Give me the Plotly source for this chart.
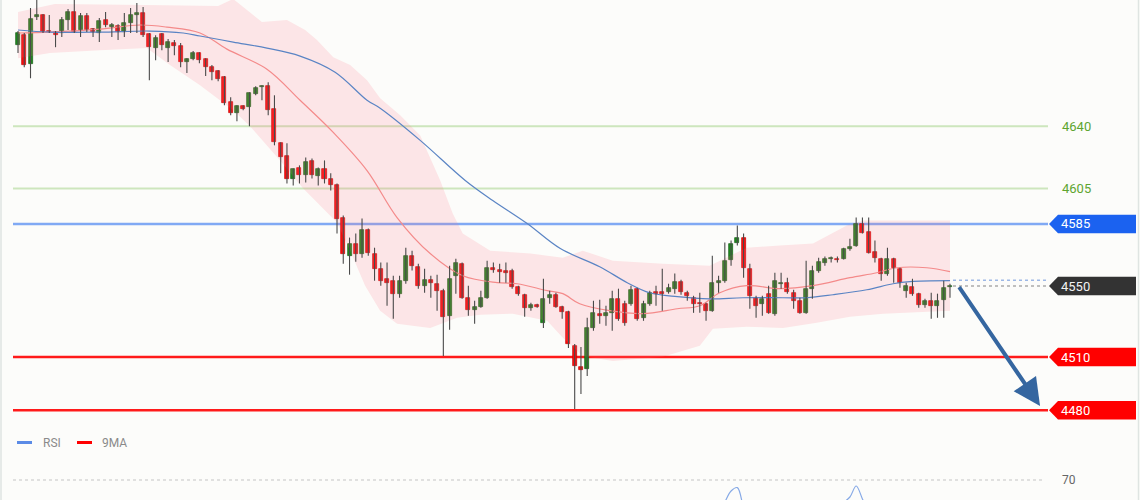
import plotly.graph_objects as go

# ---------------- data ----------------
opens = [
4685.8, 4691.4, 4675.0, 4701.6, 4702.7, 4693.7, 4693.1, 4692.6, 4699.9, 4704.4,
4694.3, 4702.2, 4694.8, 4692.6, 4699.9, 4695.9, 4696.5, 4693.1, 4698.2, 4702.7,
4703.9, 4692.0, 4684.1, 4692.0, 4684.1, 4686.9, 4685.2, 4676.2, 4677.9, 4681.3,
4677.9, 4673.3, 4671.1, 4667.7, 4653.6, 4647.4, 4651.3, 4650.7, 4658.1, 4662.0,
4662.6, 4649.6, 4630.4, 4623.1, 4610.1, 4616.3, 4612.3, 4620.2, 4611.8, 4615.7,
4610.6, 4607.2, 4588.6, 4567.1, 4573.9, 4568.3, 4581.8, 4568.3, 4559.8, 4554.1,
4553.0, 4545.7, 4553.0, 4567.1, 4560.9, 4550.2, 4553.6, 4551.3, 4547.4, 4533.2,
4555.8, 4562.6, 4543.4, 4536.6, 4538.3, 4543.4, 4560.3, 4559.2, 4558.7, 4558.7,
4549.6, 4545.1, 4537.7, 4539.4, 4529.3, 4543.4, 4545.1, 4538.3, 4535.5, 4516.3,
4504.4, 4503.3, 4526.4, 4534.4, 4533.2, 4534.9, 4542.8, 4540.0, 4540.0, 4548.5,
4532.1, 4540.0, 4546.8, 4546.8, 4546.8, 4548.5, 4552.5, 4546.2, 4543.4, 4540.6,
4540.0, 4536.1, 4551.9, 4553.0, 4564.9, 4574.5, 4577.3, 4559.8, 4543.4, 4540.0,
4545.7, 4534.4, 4551.3, 4551.9, 4546.2, 4541.7, 4534.9, 4548.5, 4558.7, 4563.2,
4565.4, 4565.4, 4565.4, 4571.1, 4572.8, 4585.2, 4580.7, 4569.4, 4565.4, 4557.0,
4565.4, 4559.8, 4547.4, 4549.6, 4545.7, 4539.4, 4541.7, 4538.9, 4542.3, 4549.6,
]
highs = [
4693.7, 4692.6, 4706.7, 4712.5, 4703.3, 4702.7, 4693.7, 4701.6, 4706.1, 4713.0,
4703.9, 4703.9, 4695.4, 4701.0, 4704.4, 4698.2, 4697.6, 4703.9, 4706.7, 4709.5,
4707.2, 4692.6, 4691.4, 4692.6, 4689.2, 4688.6, 4686.9, 4678.4, 4682.4, 4681.8,
4678.4, 4674.5, 4671.7, 4668.3, 4656.4, 4651.9, 4651.9, 4659.2, 4662.6, 4663.2,
4664.9, 4657.5, 4631.0, 4630.4, 4616.3, 4618.0, 4622.5, 4621.9, 4616.8, 4620.8,
4613.5, 4607.8, 4589.7, 4577.3, 4579.6, 4588.0, 4582.4, 4571.6, 4563.2, 4563.2,
4555.8, 4555.8, 4571.6, 4569.9, 4562.6, 4559.8, 4555.8, 4556.4, 4548.5, 4561.5,
4565.4, 4563.2, 4550.2, 4541.7, 4547.4, 4564.3, 4563.2, 4562.6, 4563.2, 4559.8,
4550.2, 4545.7, 4540.6, 4540.0, 4554.1, 4547.4, 4546.2, 4538.9, 4536.1, 4517.4,
4515.7, 4532.1, 4541.7, 4542.3, 4538.9, 4547.4, 4548.5, 4541.7, 4550.2, 4549.1,
4541.7, 4547.4, 4550.2, 4559.8, 4551.3, 4557.0, 4553.6, 4547.4, 4544.5, 4546.2,
4540.6, 4567.1, 4555.8, 4574.5, 4575.6, 4584.1, 4579.6, 4562.6, 4544.5, 4544.5,
4550.2, 4557.5, 4557.5, 4554.7, 4547.9, 4543.4, 4564.3, 4561.5, 4566.0, 4566.6,
4566.6, 4566.6, 4571.6, 4576.7, 4588.6, 4588.6, 4588.6, 4575.6, 4566.0, 4571.6,
4566.0, 4560.3, 4551.9, 4554.1, 4546.2, 4542.8, 4546.2, 4545.7, 4553.0, 4551.3,
]
lows = [
4681.3, 4673.3, 4667.1, 4699.9, 4692.6, 4692.6, 4684.6, 4690.3, 4694.3, 4692.6,
4690.3, 4693.1, 4690.3, 4687.5, 4695.9, 4690.3, 4688.6, 4690.3, 4692.6, 4692.6,
4690.3, 4666.0, 4677.3, 4682.9, 4676.2, 4680.1, 4673.3, 4670.0, 4677.3, 4675.6,
4668.3, 4666.0, 4665.4, 4651.9, 4646.2, 4642.8, 4649.1, 4640.0, 4657.5, 4654.7,
4646.2, 4629.3, 4613.5, 4607.8, 4606.7, 4607.8, 4608.4, 4610.6, 4606.7, 4607.8,
4603.9, 4579.6, 4562.6, 4556.4, 4563.7, 4566.0, 4567.1, 4553.0, 4550.2, 4538.9,
4531.5, 4543.4, 4551.3, 4558.7, 4548.5, 4546.2, 4543.4, 4536.1, 4510.6, 4525.3,
4545.7, 4542.8, 4533.2, 4528.7, 4537.7, 4542.8, 4557.5, 4551.9, 4551.9, 4548.5,
4544.5, 4532.7, 4536.1, 4537.7, 4526.4, 4540.0, 4537.7, 4531.5, 4515.1, 4480.7,
4489.2, 4499.3, 4524.8, 4528.7, 4527.6, 4524.8, 4530.4, 4527.6, 4538.9, 4530.4,
4530.4, 4538.9, 4538.9, 4536.1, 4545.7, 4545.7, 4545.1, 4541.7, 4534.9, 4534.9,
4530.4, 4535.5, 4546.2, 4551.9, 4561.5, 4572.8, 4554.7, 4537.2, 4532.1, 4533.2,
4534.4, 4533.2, 4548.5, 4545.7, 4537.2, 4534.4, 4534.4, 4542.8, 4557.5, 4561.5,
4563.2, 4563.2, 4564.9, 4569.9, 4572.2, 4579.6, 4568.3, 4563.2, 4553.0, 4555.8,
4551.9, 4549.1, 4543.4, 4544.5, 4537.7, 4537.7, 4531.5, 4532.1, 4532.1, 4543.4,
]
closes = [
4692.6, 4674.5, 4700.5, 4702.7, 4693.1, 4693.1, 4691.4, 4699.9, 4704.4, 4693.1,
4702.2, 4694.3, 4693.1, 4699.3, 4697.1, 4697.1, 4693.1, 4698.2, 4702.7, 4703.9,
4691.4, 4684.6, 4689.7, 4685.8, 4687.5, 4685.2, 4676.2, 4677.9, 4681.3, 4677.3,
4673.3, 4670.5, 4666.6, 4653.0, 4647.4, 4651.3, 4649.6, 4658.7, 4661.5, 4662.6,
4649.1, 4631.0, 4622.5, 4610.6, 4615.7, 4612.3, 4619.7, 4612.3, 4615.7, 4610.6,
4607.2, 4588.0, 4568.3, 4573.9, 4568.3, 4581.3, 4568.8, 4559.8, 4553.0, 4551.9,
4545.7, 4553.0, 4567.1, 4561.5, 4550.2, 4553.6, 4551.9, 4547.4, 4532.7, 4554.1,
4563.2, 4543.4, 4536.6, 4538.3, 4543.4, 4560.3, 4559.2, 4558.1, 4557.5, 4549.6,
4545.7, 4537.7, 4539.4, 4538.3, 4542.8, 4545.1, 4538.3, 4535.5, 4517.4, 4505.0,
4502.7, 4526.4, 4534.9, 4533.2, 4534.9, 4542.8, 4531.5, 4529.3, 4547.9, 4531.5,
4540.0, 4546.2, 4545.7, 4545.7, 4549.1, 4552.5, 4546.8, 4544.5, 4540.0, 4540.0,
4536.1, 4551.9, 4553.0, 4564.3, 4573.9, 4577.3, 4560.3, 4544.5, 4538.9, 4542.8,
4534.9, 4553.0, 4551.9, 4546.8, 4541.7, 4534.9, 4548.5, 4558.7, 4563.7, 4565.4,
4565.7, 4564.9, 4571.1, 4572.2, 4585.2, 4580.1, 4568.8, 4566.0, 4557.0, 4565.4,
4560.3, 4551.9, 4550.2, 4545.7, 4539.4, 4541.7, 4538.9, 4541.7, 4549.1, 4550.2,
]

# slow moving average (blue), sampled at candle positions
ma_slow_x = [0, 5.1, 13.1, 21.1, 26.4, 29.1, 34.4, 39.8, 45.1, 50.7, 55.8, 57.9, 64.3,
             71.5, 75.9, 81.4, 86.7, 93.0, 97.4, 101.0, 105.4, 110.6, 115.9, 122.3,
             126.1, 130.3, 135.7, 139.9, 142.6, 149]
ma_slow = [4694.3, 4693.1, 4693.1, 4693.7, 4692.6, 4690.9, 4687.5, 4684.1, 4679.6, 4670.5,
           4654.7, 4650.2, 4632.1, 4609.5, 4598.2, 4585.2, 4571.1, 4560.9, 4551.9, 4546.2,
           4544.0, 4542.8, 4543.4, 4543.4, 4543.4, 4545.1, 4547.9, 4551.3, 4552.5, 4553.0]

# fast moving average (red)
ma_fast_x = [0, 5.1, 13.1, 19.5, 23.8, 29.1, 33.4, 39.8, 45.1, 50.4, 55.8, 60.6, 65.9,
             71.1, 76.6, 79.8, 84.6, 87.1, 89.8, 94.6, 99.9, 105.4, 109.0, 112.2, 116.5,
             121.8, 127.1, 133.0, 137.3, 140.5, 145.3, 149]
ma_fast = [4692.6, 4693.1, 4694.8, 4697.1, 4695.9, 4692.6, 4683.5, 4672.2, 4654.7, 4636.6,
           4615.1, 4588.6, 4568.3, 4555.8, 4551.9, 4551.3, 4547.4, 4545.7, 4540.0, 4536.1,
           4534.4, 4537.2, 4538.9, 4546.2, 4550.2, 4548.5, 4550.2, 4554.7, 4557.5, 4560.3,
           4560.3, 4558.1]

# band (upper / lower envelopes)
band_up_x = [0, 5.9, 20.3, 32.0, 34.4, 36.6, 39.0, 43.0, 45.9, 47.8, 50.4, 53.1, 55.8,
             57.9, 61.1, 64.3, 67.5, 69.5, 71.1, 75.5, 81.9, 87.1, 90.3, 95.1, 103.1,
             110.6, 116.5, 121.8, 127.1, 132.5, 135.1, 149]
band_up = [4704.4, 4708.9, 4708.4, 4707.8, 4711.8, 4705.5, 4698.8, 4699.9, 4694.3, 4688.6,
           4679.0, 4674.5, 4666.0, 4655.8, 4646.2, 4634.9, 4609.5, 4590.9, 4579.6, 4569.9,
           4568.3, 4566.0, 4569.9, 4564.3, 4562.6, 4561.5, 4571.6, 4572.8, 4573.9, 4584.1,
           4586.9, 4586.9]
band_lo_x = [0, 5.1, 13.1, 20.6, 24.3, 29.1, 34.4, 37.1, 41.9, 45.6, 51.0, 53.1, 55.5,
             57.9, 60.6, 65.9, 70.2, 73.9, 79.1, 84.6, 87.1, 90.3, 95.1, 103.1, 109.0,
             111.1, 116.5, 122.3, 127.7, 133.0, 138.3, 149]
band_lo = [4678.4, 4681.3, 4682.9, 4684.1, 4674.5, 4663.2, 4649.1, 4640.0, 4620.8, 4605.0,
           4585.8, 4569.9, 4550.2, 4536.1, 4528.7, 4526.4, 4532.1, 4533.8, 4534.4, 4530.4,
           4520.8, 4510.6, 4507.8, 4510.1, 4516.3, 4525.9, 4527.0, 4526.4, 4529.3, 4532.7,
           4534.4, 4536.1]

# RSI (only the top of it shows in the lower panel)
rsi_x = list(range(104, 142))
rsi = [52, 54, 50, 48, 45, 46, 43, 52, 53, 59, 64.5, 66.2, 56, 48, 45, 47, 43, 52, 52, 49,
       46, 43, 50, 55, 57, 58, 58, 58, 59, 61.5, 67, 60.5, 53, 48, 44, 50, 47, 43]

green_levels = [4640, 4605]
tag_levels = [4585, 4550, 4510, 4480]
tag_labels = ["4585", "4550", "4510", "4480"]
rsi_level = 70
target_from = (150.3, 4550.2)
target_to = (163.4, 4482.4)

# ---------------- figure ----------------
W, H = 1140, 500
def px(x):
    return x / W

FONT = "Roboto, 'Open Sans', sans-serif"
BG = "#fcfcfa"

n = len(opens)
idx = list(range(n))
is_up = [c >= o for o, c in zip(opens, closes)]
mins = [min(o, c) for o, c in zip(opens, closes)]
hts = [abs(c - o) for o, c in zip(opens, closes)]
base = [m - (0.7 - h) / 2 if h < 0.7 else m for m, h in zip(mins, hts)]
hts = [max(h, 0.7) for h in hts]

wick_x, wick_y = [], []
for i in idx:
    wick_x += [i, i, None]
    wick_y += [lows[i], highs[i], None]

fig = go.Figure()

# band
fig.add_trace(go.Scatter(
    x=band_up_x + band_lo_x[::-1], y=band_up + band_lo[::-1],
    fill="toself", fillcolor="rgba(255,120,135,0.17)", mode="lines",
    line=dict(width=0, color="rgba(0,0,0,0)"), hoverinfo="skip", showlegend=False))

# moving averages
fig.add_trace(go.Scatter(x=ma_fast_x, y=ma_fast, mode="lines",
                         line=dict(color="#f48a8a", width=1.2, shape="spline"),
                         showlegend=False))
fig.add_trace(go.Scatter(x=ma_slow_x, y=ma_slow, mode="lines",
                         line=dict(color="#5a84c4", width=1.2, shape="spline"),
                         showlegend=False))

# wicks
fig.add_trace(go.Scatter(x=wick_x, y=wick_y, mode="lines",
                         line=dict(color="#4a4a4a", width=1.1), showlegend=False,
                         hoverinfo="skip"))
# bodies
fig.add_trace(go.Bar(
    x=idx, y=hts, base=base, width=0.64,
    marker=dict(color=["#1f8a1f" if u else "#ff0d0d" for u in is_up],
                line=dict(color=["#155c15" if u else "#c40000" for u in is_up], width=0.7)),
    showlegend=False))

# RSI
fig.add_trace(go.Scatter(x=rsi_x, y=rsi, mode="lines", xaxis="x2", yaxis="y2",
                         line=dict(color="#86a9e6", width=1.2, shape="spline"),
                         showlegend=False))

shapes = []
LX0, LX1 = px(13), px(1048)
for lv in green_levels:
    shapes.append(dict(type="line", xref="paper", yref="y", x0=LX0, x1=LX1, y0=lv, y1=lv,
                       line=dict(color="#cde6bd", width=2), layer="below"))
shapes.append(dict(type="line", xref="paper", yref="y", x0=LX0, x1=LX1, y0=4585, y1=4585,
                   line=dict(color="#80a9f4", width=2.5), layer="below"))
for lv in (4510, 4480):
    shapes.append(dict(type="line", xref="paper", yref="y", x0=LX0, x1=LX1, y0=lv, y1=lv,
                       line=dict(color="#ff1a1a", width=2.5), layer="below"))
# dotted lines to the current price
shapes.append(dict(type="line", xref="paper", yref="y", x0=px(953), x1=px(1049),
                   y0=4553.2, y1=4553.2, line=dict(color="#9db8e6", width=1.5, dash="dot")))
shapes.append(dict(type="line", xref="paper", yref="y", x0=px(953), x1=px(1049),
                   y0=4550, y1=4550, line=dict(color="#aaaaaa", width=1.5, dash="dot")))

tag_colors = ["#1b62f0", "#333333", "#ff0000", "#ff0000"]
HH = 5.2
for lv, col in zip(tag_levels, tag_colors):
    path = (f"M {px(1049)},{lv} L {px(1058)},{lv + HH} L {px(1136)},{lv + HH} "
            f"L {px(1136)},{lv - HH} L {px(1058)},{lv - HH} Z")
    shapes.append(dict(type="path", xref="paper", yref="y", path=path,
                       fillcolor=col, line=dict(width=0)))

# RSI panel decorations
shapes.append(dict(type="line", xref="paper", yref="y2", x0=px(13), x1=px(1045),
                   y0=rsi_level, y1=rsi_level,
                   line=dict(color="#c4c4c4", width=1, dash="dot")))
shapes.append(dict(type="line", xref="paper", yref="paper", x0=px(17), x1=px(32),
                   y0=(H - 442.5) / H, y1=(H - 442.5) / H,
                   line=dict(color="#5b8be6", width=3)))
shapes.append(dict(type="line", xref="paper", yref="paper", x0=px(77), x1=px(92),
                   y0=(H - 442.5) / H, y1=(H - 442.5) / H,
                   line=dict(color="#ff0000", width=3)))
# frame edges
for xe in (1, 1138.5):
    shapes.append(dict(type="line", xref="paper", yref="paper", x0=px(xe), x1=px(xe),
                       y0=0, y1=1, line=dict(color="#dfe5e2", width=1.5)))

annotations = []
for lv in green_levels:
    annotations.append(dict(x=px(1060), y=lv, xref="paper", yref="y", text=str(lv),
                            showarrow=False, xanchor="left", yanchor="middle",
                            font=dict(family=FONT, size=13, color="#5ea52f")))
for lv, lab, col in zip(tag_levels, tag_labels, tag_colors):
    annotations.append(dict(x=px(1059), y=lv, xref="paper", yref="y", text=lab,
                            showarrow=False, xanchor="left", yanchor="middle",
                            font=dict(family=FONT, size=13,
                                      color="#f2f2f2" if col == "#333333" else "#ffffff")))
annotations.append(dict(x=target_to[0], y=target_to[1], ax=target_from[0], ay=target_from[1],
                        xref="x", yref="y", axref="x", ayref="y", text="", showarrow=True,
                        arrowhead=2, arrowsize=1.35, arrowwidth=4, arrowcolor="#3566a0",
                        standoff=0, startstandoff=0))
annotations.append(dict(x=px(41), y=(H - 442.5) / H, xref="paper", yref="paper", text="RSI",
                        showarrow=False, xanchor="left", yanchor="middle",
                        font=dict(family=FONT, size=12, color="#8a8a8a")))
annotations.append(dict(x=px(100), y=(H - 442.5) / H, xref="paper", yref="paper", text="9MA",
                        showarrow=False, xanchor="left", yanchor="middle",
                        font=dict(family=FONT, size=12, color="#8a8a8a")))
annotations.append(dict(x=px(1060), y=rsi_level, xref="paper", yref="y2", text="70",
                        showarrow=False, xanchor="left", yanchor="middle",
                        font=dict(family=FONT, size=12, color="#666666")))

xr = [-18 / 6.255, (W - 18) / 6.255]
fig.update_layout(
    width=W, height=H, autosize=False,
    margin=dict(l=0, r=0, t=0, b=0, pad=0),
    paper_bgcolor=BG, plot_bgcolor=BG,
    showlegend=False, bargap=0,
    xaxis=dict(range=xr, visible=False, domain=[0, 1], anchor="y", fixedrange=True),
    yaxis=dict(range=[4474.5, 4711.2], visible=False, domain=[0.16, 1], anchor="x"),
    xaxis2=dict(range=xr, visible=False, domain=[0, 1], anchor="y2", matches="x"),
    yaxis2=dict(range=[60, 85], visible=False, domain=[0, 0.1], anchor="x2"),
    shapes=shapes, annotations=annotations,
    font=dict(family=FONT),
)

fig.write_html("out.html", config={"displayModeBar": False},
               post_script="document.body.style.margin='0';document.body.style.overflow='hidden';")
